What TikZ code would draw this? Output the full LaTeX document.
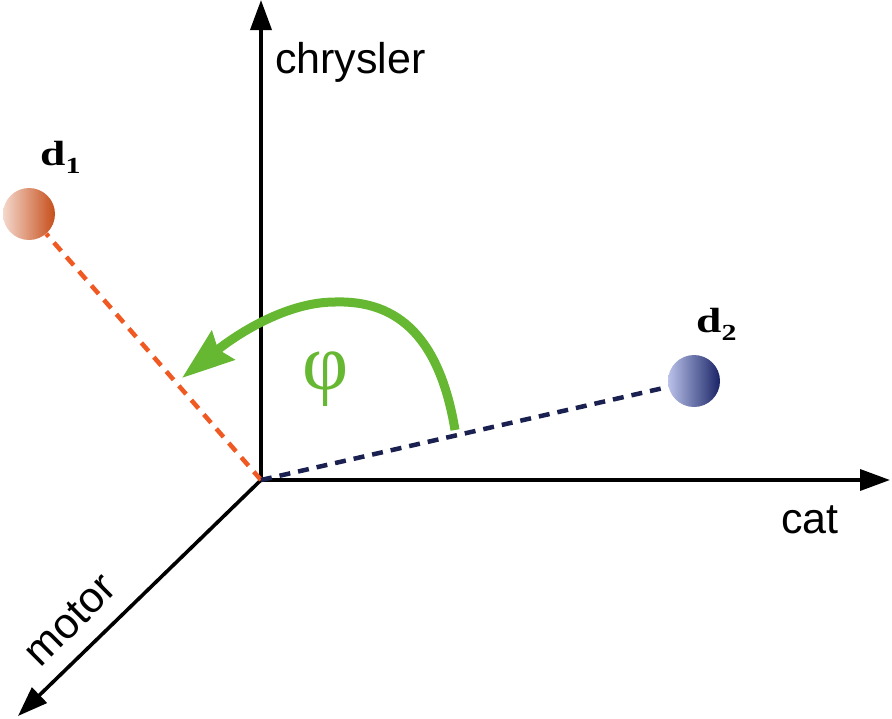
\documentclass[tikz,border=0pt]{standalone}
\usepackage{fontspec}
\setmainfont{Liberation Serif}
\newfontfamily\arialf{Liberation Sans}
\usetikzlibrary{arrows.meta}
\definecolor{dorange}{HTML}{F05A22}
\definecolor{dnavy}{HTML}{1A2050}
\definecolor{agreen}{HTML}{66B832}
\definecolor{oLight}{HTML}{F4D8CC}
\definecolor{oDark}{HTML}{C64E1A}
\definecolor{nLight}{HTML}{BAC2EA}
\definecolor{nDark}{HTML}{1A2466}
\newcommand{\dlab}[1]{\scalebox{1.3}[1]{d\raisebox{-8pt}{\fontsize{23}{23}\selectfont #1}}}
\begin{document}
\begin{tikzpicture}[x=1pt,y=-1pt,
 axis/.style={line width=3.6pt, -{Triangle[length=30pt,width=21pt]}},
 lbl/.style={font=\arialf\fontsize{43}{43}\selectfont, inner sep=0pt},
 dlbl/.style={font=\bfseries\fontsize{35}{35}\selectfont, inner sep=0pt},
 ball/.style={circle, minimum size=52pt, inner sep=0pt},
 proj/.style={line width=4.5pt, dash pattern=on 11pt off 8pt},
 angarrow/.style={line width=9pt, color=agreen, -{Stealth[length=52pt,width=36pt,inset=6pt]}}
]
\useasboundingbox (0,0) rectangle (892,718);
\coordinate (O) at (261,480);
\coordinate (Y) at (261,0);
\coordinate (X) at (890,480);
\coordinate (Z) at (18,716);
\node[ball, left color=oLight, right color=oDark] (d1) at (29,214) {};
\node[ball, left color=nLight, right color=nDark] (d2) at (694,381) {};
\draw[axis] (O) -- (Y);
\draw[axis] (O) -- (X);
\draw[axis] (O) -- (Z);
\draw[proj, dorange] (O) -- (d1);
\draw[proj, dnavy] (O) -- (d2);
\coordinate (A) at (455,430);
\coordinate (P) at (335,302);
\coordinate (B) at (182,378);
\draw[angarrow] (A) .. controls (440,340) and (400,300) .. (P) .. controls (288,302) and (240,332) .. (B);
\node[lbl, anchor=base west] (ly) at (275,73) {chrysler};
\node[lbl, anchor=base west] (lx) at (781,533) {cat};
\node[lbl, rotate=45] (lz) at (70,620) {motor};
\node[dlbl, anchor=base west] (t1) at (40,165) {\dlab{1}};
\node[dlbl, anchor=base west] (t2) at (696,332) {\dlab{2}};
\node[font=\fontsize{80}{80}\selectfont, text=agreen, inner sep=0pt] (phi) at (326,379) {φ};
\end{tikzpicture}
\end{document}
